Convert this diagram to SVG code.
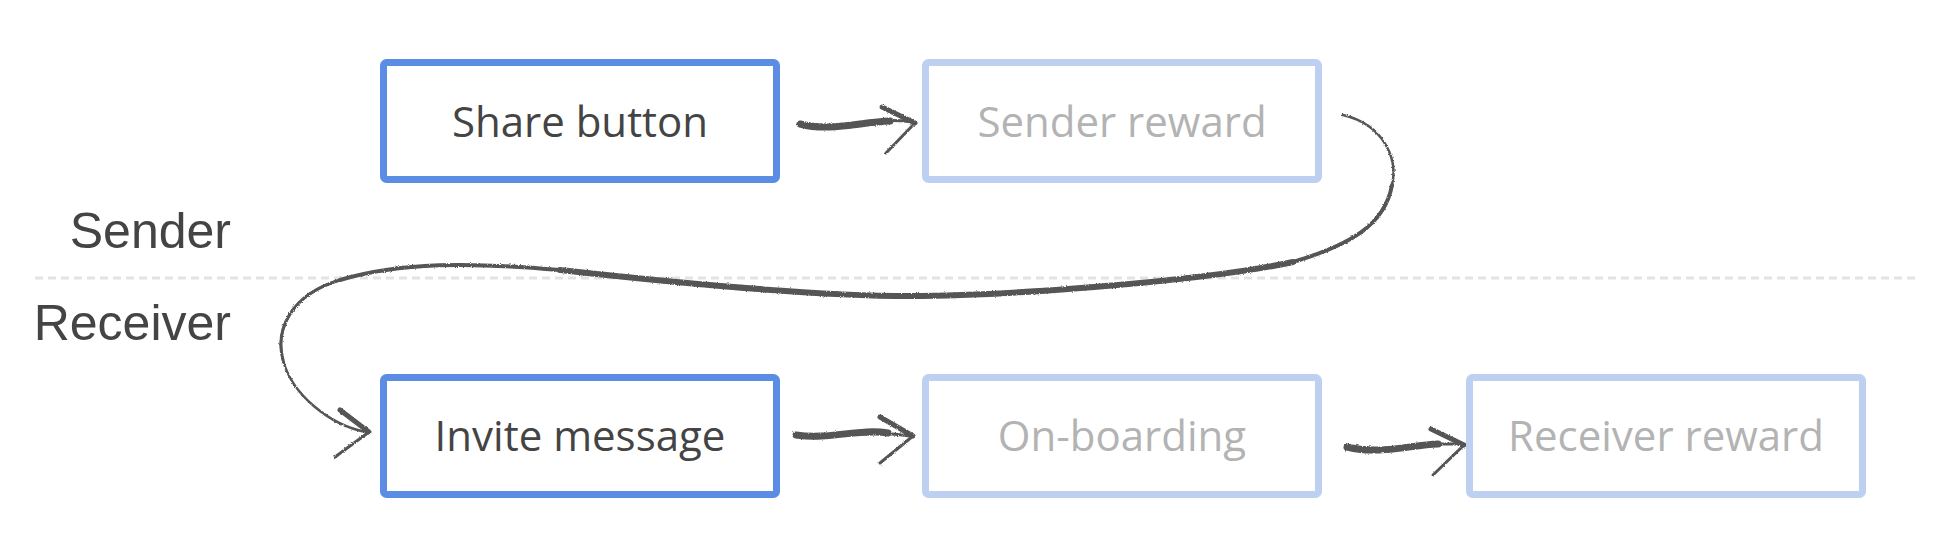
<svg xmlns="http://www.w3.org/2000/svg" width="1944" height="556" viewBox="0 0 1944 556">
  <style>
    .box-active { fill: #ffffff; stroke: #5b8de4; stroke-width: 7; }
    .box-inactive { fill: #ffffff; stroke: #bdd0f2; stroke-width: 7; }
    .label-active { font-family: "Open Sans", "Noto Sans", sans-serif; font-size: 42px; fill: #444444; text-anchor: middle; }
    .label-inactive { font-family: "Open Sans", "Noto Sans", sans-serif; font-size: 42px; fill: #b3b3b3; text-anchor: middle; }
    .lane { font-family: "Liberation Sans", Arial, sans-serif; font-size: 50px; fill: #444444; text-anchor: end; }
    .divider { stroke: #e3e3e3; stroke-width: 3; stroke-dasharray: 8 5; fill: none; }
    .brush { fill: none; stroke: #555555; stroke-linecap: round; stroke-linejoin: round; }
  </style>
  <defs>
    <filter id="rough" x="-5%" y="-20%" width="110%" height="140%">
      <feTurbulence type="fractalNoise" baseFrequency="0.9" numOctaves="2" seed="3" result="n"/>
      <feDisplacementMap in="SourceGraphic" in2="n" scale="2.5" xChannelSelector="R" yChannelSelector="G"/>
    </filter>
  </defs>
  <rect width="1944" height="556" fill="#ffffff"/>

  <g id="lanes">
    <line class="divider" x1="35" y1="278" x2="1919" y2="278"/>
    <text class="lane" x="231" y="248">Sender</text>
    <text class="lane" x="231" y="340">Receiver</text>
  </g>

  <g id="connectors" filter="url(#rough)">
    <!-- Share button -> Sender reward -->
    <path class="brush" stroke-width="7" d="M 800 124 C 830 132, 860 122, 890 121"/>
    <path class="brush" stroke-width="3" d="M 880 121 C 895 120, 905 121, 912 122"/>
    <path class="brush" stroke-width="5" d="M 882 107 L 915 123"/>
    <path class="brush" stroke-width="3" d="M 915 123 L 886 153"/>

    <!-- Sender reward -> Invite message (long curve) -->
    <path class="brush" stroke-width="2.5" d="M 1343 115 C 1385 125, 1398 160, 1392 185 C 1385 225, 1350 245, 1293 262 C 1200 282, 1000 296, 910 296 C 800 296, 650 280, 560 270 C 470 262, 400 262, 340 280 C 290 295, 275 330, 283 360 C 292 395, 330 425, 366 432"/>
    <path class="brush" stroke-width="4" d="M 1392 185 C 1385 225, 1350 245, 1293 262"/>
    <path class="brush" stroke-width="6" d="M 1293 262 C 1200 282, 1000 296, 910 296 C 800 296, 650 280, 560 270"/>
    <path class="brush" stroke-width="4" d="M 560 270 C 470 262, 400 262, 340 280"/>
    <path class="brush" stroke-width="3" d="M 340 280 C 290 295, 275 330, 283 360"/>
    <path class="brush" stroke-width="5" d="M 340 410 L 369 432"/>
    <path class="brush" stroke-width="3" d="M 369 432 L 335 457"/>

    <!-- Invite message -> On-boarding -->
    <path class="brush" stroke-width="7" d="M 796 435 C 830 440, 860 428, 888 433"/>
    <path class="brush" stroke-width="3" d="M 880 433 C 895 434, 904 435, 910 436"/>
    <path class="brush" stroke-width="5" d="M 880 417 L 913 436"/>
    <path class="brush" stroke-width="3" d="M 913 436 L 880 463"/>

    <!-- On-boarding -> Receiver reward -->
    <path class="brush" stroke-width="7" d="M 1347 447 C 1380 455, 1410 445, 1438 444"/>
    <path class="brush" stroke-width="3" d="M 1430 444 C 1445 444, 1455 444, 1460 444"/>
    <path class="brush" stroke-width="5" d="M 1431 429 L 1464 445"/>
    <path class="brush" stroke-width="3" d="M 1464 445 L 1433 475"/>
  </g>

  <g id="share-button">
    <rect class="box-active" x="383.5" y="62.5" width="393" height="117" rx="3"/>
    <text class="label-active" x="580" y="137">Share button</text>
  </g>
  <g id="sender-reward">
    <rect class="box-inactive" x="925.5" y="62.5" width="393" height="117" rx="3"/>
    <text class="label-inactive" x="1122" y="137">Sender reward</text>
  </g>
  <g id="invite-message">
    <rect class="box-active" x="383.5" y="377.5" width="393" height="117" rx="3"/>
    <text class="label-active" x="580" y="451">Invite message</text>
  </g>
  <g id="on-boarding">
    <rect class="box-inactive" x="925.5" y="377.5" width="393" height="117" rx="3"/>
    <text class="label-inactive" x="1122" y="451">On-boarding</text>
  </g>
  <g id="receiver-reward">
    <rect class="box-inactive" x="1469.5" y="377.5" width="393" height="117" rx="3"/>
    <text class="label-inactive" x="1666" y="451">Receiver reward</text>
  </g>
</svg>
